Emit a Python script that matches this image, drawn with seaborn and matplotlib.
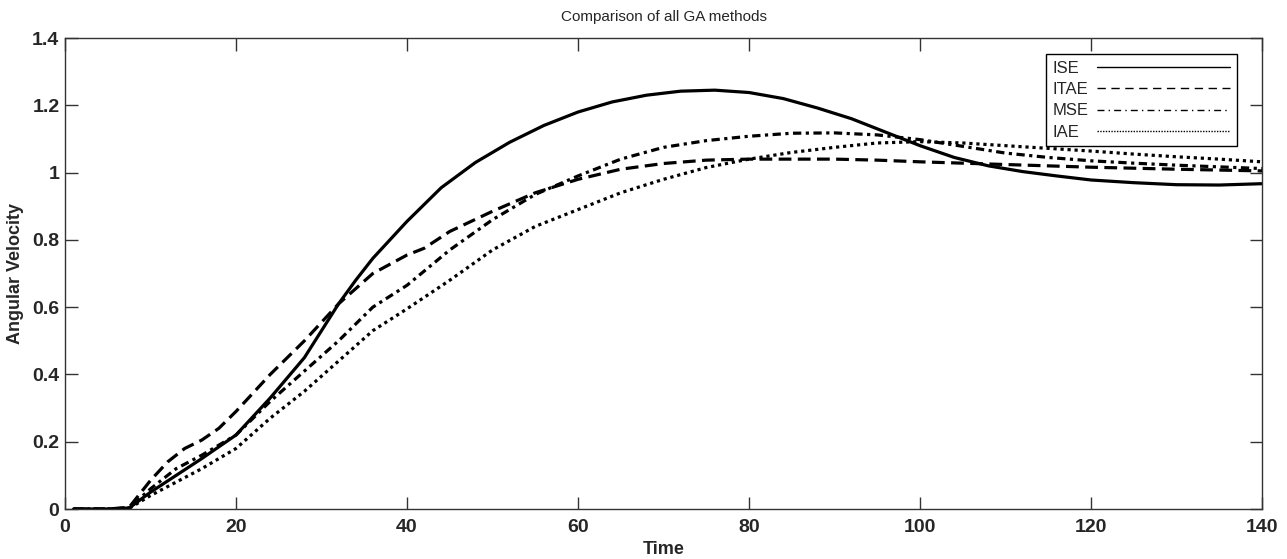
import matplotlib
matplotlib.use('Agg')
import matplotlib.pyplot as plt
import seaborn as sns
import pandas as pd
from matplotlib.lines import Line2D

methods = ['ISE', 'ITAE', 'MSE', 'IAE']

ise_time = [1, 5, 7.5, 10, 13, 16, 20, 24, 26, 28, 30, 32, 34, 36, 38, 40, 44, 48, 52, 56,
            60, 64, 68, 72, 76, 80, 84, 88, 92, 96, 100, 104, 108, 112, 116, 120, 125, 130,
            135, 140]
ise_vals = [0, 0, 0.003, 0.05, 0.10, 0.15, 0.22, 0.33, 0.39, 0.45, 0.53, 0.61, 0.68, 0.745,
            0.80, 0.855, 0.955, 1.03, 1.09, 1.14, 1.18, 1.21, 1.23, 1.242, 1.245, 1.238,
            1.22, 1.192, 1.16, 1.12, 1.08, 1.045, 1.02, 1.003, 0.99, 0.978, 0.97, 0.964,
            0.963, 0.967]

itae_time = [1, 5, 7.5, 10, 12, 14, 16, 18, 20, 24, 28, 32, 36, 40, 42, 45, 50, 55, 60, 65,
             70, 75, 80, 85, 90, 95, 100, 110, 120, 130, 140]
itae_vals = [0, 0, 0.005, 0.085, 0.14, 0.18, 0.205, 0.24, 0.29, 0.40, 0.50, 0.61, 0.70, 0.755,
             0.775, 0.825, 0.885, 0.94, 0.98, 1.01, 1.027, 1.037, 1.04, 1.04, 1.04, 1.037,
             1.032, 1.024, 1.016, 1.01, 1.005]

mse_time = [1, 5, 7.5, 10, 13, 16, 20, 24, 28, 32, 36, 40, 45, 50, 55, 60, 65, 70, 75,
            80, 85, 90, 95, 100, 105, 110, 115, 120, 125, 130, 135, 140]
mse_vals = [0, 0, 0.003, 0.06, 0.12, 0.16, 0.22, 0.32, 0.41, 0.50, 0.60, 0.665, 0.77, 0.86,
            0.935, 0.99, 1.04, 1.075, 1.095, 1.108, 1.117, 1.118, 1.112, 1.098, 1.078, 1.058,
            1.045, 1.035, 1.028, 1.022, 1.017, 1.012]

iae_time = [1, 5, 7.5, 10, 13, 16, 20, 24, 28, 32, 36, 40, 45, 50, 55, 60, 65, 70, 75,
            80, 85, 90, 95, 100, 105, 110, 115, 120, 125, 130, 135, 140]
iae_vals = [0, 0, 0.002, 0.04, 0.08, 0.12, 0.18, 0.27, 0.35, 0.44, 0.53, 0.595, 0.68, 0.77,
            0.84, 0.89, 0.94, 0.98, 1.015, 1.04, 1.06, 1.075, 1.088, 1.092, 1.088, 1.08,
            1.072, 1.064, 1.055, 1.047, 1.04, 1.032]

x_ticks = [0, 20, 40, 60, 80, 100, 120, 140]
y_ticks = [0, 0.2, 0.4, 0.6, 0.8, 1, 1.2, 1.4]


def make_df():
    rows = {'Time': [], 'Angular Velocity': [], 'Method': []}
    for name, t, v in zip(methods,
                          [ise_time, itae_time, mse_time, iae_time],
                          [ise_vals, itae_vals, mse_vals, iae_vals]):
        rows['Time'] += t
        rows['Angular Velocity'] += v
        rows['Method'] += [name] * len(t)
    return pd.DataFrame(rows)


def main():
    sns.set_style('white')
    plt.rcParams['font.family'] = ['Liberation Sans', 'DejaVu Sans']

    df = make_df()

    fig = plt.figure(figsize=(12.87, 5.59), dpi=100)
    ax = fig.add_axes([0.0505, 0.0894, 0.9301, 0.8426])

    dashes = {'ISE': '', 'ITAE': (4, 2), 'MSE': (2.6, 1.4, 1, 1.4), 'IAE': (1, 1.2)}
    sns.lineplot(data=df, x='Time', y='Angular Velocity', hue='Method', style='Method',
                 palette=['black'] * 4, dashes=dashes, linewidth=2.3, estimator=None,
                 legend=False, ax=ax)

    ax.set_xlim(0, 140)
    ax.set_ylim(0, 1.4)
    ax.set_xticks(x_ticks)
    ax.set_yticks(y_ticks)
    ax.set_xticklabels([str(t) for t in x_ticks], fontsize=14, fontweight='bold')
    ax.set_yticklabels(['%g' % t for t in y_ticks], fontsize=14, fontweight='bold')
    ax.tick_params(direction='in', length=9, width=1, color='#333333',
                   top=True, right=True, bottom=True, left=True)
    ax.tick_params(axis='x', pad=7)
    ax.tick_params(axis='y', pad=4)
    for sp in ax.spines.values():
        sp.set_color('#333333')
        sp.set_linewidth(1)

    ax.set_xlabel('Time', fontsize=13, fontweight='bold', labelpad=4)
    ax.set_ylabel('Angular Velocity', fontsize=13, fontweight='bold', labelpad=6)
    ax.set_title('Comparison of all GA methods', fontsize=11, pad=12)

    handles = [Line2D([], [], color='black', linewidth=1, linestyle='-'),
               Line2D([], [], color='black', linewidth=1, linestyle=(0, (6, 4))),
               Line2D([], [], color='black', linewidth=1, linestyle=(0, (5, 3, 1, 3))),
               Line2D([], [], color='black', linewidth=1, linestyle=(0, (1, 1)))]
    leg = ax.legend(handles, methods, loc='upper left', bbox_to_anchor=(0.8196, 0.966),
                    borderaxespad=0, markerfirst=False, handlelength=8.0, handletextpad=0.5,
                    fontsize=12, labelspacing=0.38, borderpad=0.4, fancybox=False,
                    framealpha=1, edgecolor='black')
    leg.get_frame().set_linewidth(1)

    # left-align the labels while keeping the line samples in one column
    renderer = fig.canvas.get_renderer()
    col = leg._legend_handle_box.get_children()[0]
    col.align = 'left'
    widths = [t.get_window_extent(renderer).width for t in leg.texts]
    for item, w in zip(col.get_children(), widths):
        item.sep = item.sep + (max(widths) - w) * 72 / fig.dpi

    fig.savefig('out.png', dpi=100)
    plt.close()


if __name__ == '__main__':
    main()
